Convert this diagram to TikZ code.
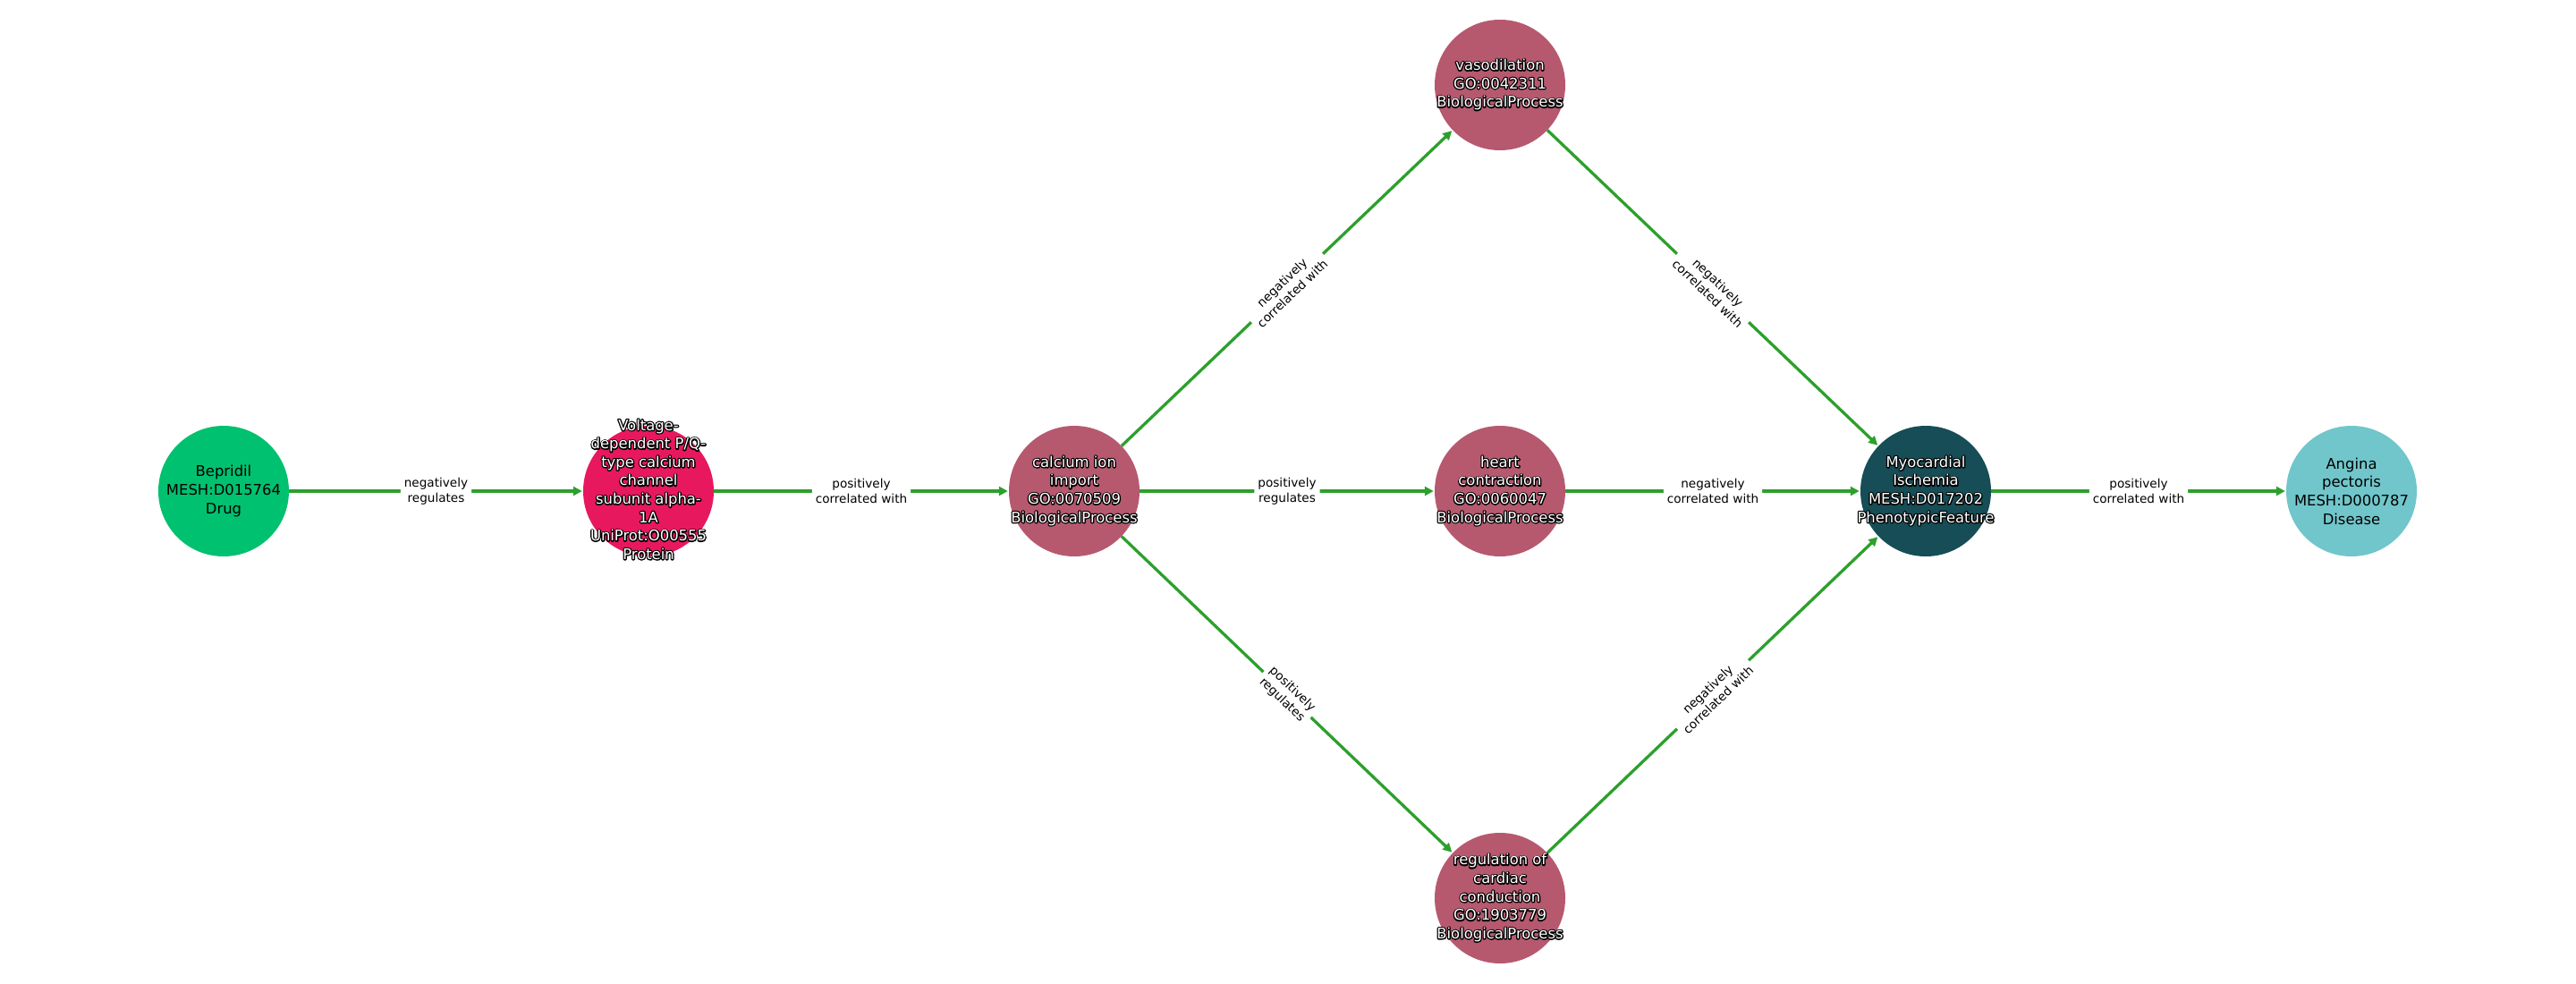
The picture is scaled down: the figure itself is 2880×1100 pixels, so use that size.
\documentclass[tikz,border=0pt]{standalone}
\usepackage{fontspec}
\setmainfont{DejaVu Sans}
\usetikzlibrary{arrows.meta}
\definecolor{cdrug}{RGB}{0,193,111}
\definecolor{cprot}{RGB}{232,24,94}
\definecolor{cbp}{RGB}{182,89,111}
\definecolor{cpheno}{RGB}{22,77,86}
\definecolor{cdis}{RGB}{112,198,202}
\definecolor{egreen}{RGB}{44,160,44}
\newcommand{\outl}[1]{%
  \leavevmode\rlap{\special{pdf:literal direct 1 Tr 2.6 w 1 j}\textcolor{black}{\begin{tabular}{@{}c@{}}#1\end{tabular}}\special{pdf:literal direct 0 Tr}}%
  \begin{tabular}{@{}c@{}}#1\end{tabular}}
\tikzset{
  nd/.style={circle, minimum size=146pt, inner sep=0pt, draw=none},
  ntxt/.style={font=\fontsize{16.4}{20.6}\selectfont, align=center, inner sep=0pt},
  wtxt/.style={ntxt, text=white},
  elab/.style={font=\fontsize{13.6}{16.7}\selectfont, align=center, fill=white, inner sep=4pt, rounded corners=3pt, sloped, text=black},
  edgeln/.style={draw=egreen, line width=3.3pt, shorten >=1pt, -{Triangle[length=10pt,width=10pt]}},
}
\begin{document}
\begin{tikzpicture}[x=1pt,y=-1pt]
\useasboundingbox (0,0) rectangle (2880,1100);
% circles
\node[nd, fill=cdrug]  (b)  at (250,549)  {};
\node[nd, fill=cprot]  (v)  at (725,549)  {};
\node[nd, fill=cbp]    (c)  at (1201,549) {};
\node[nd, fill=cbp]    (vd) at (1677,95)  {};
\node[nd, fill=cbp]    (h)  at (1677,549) {};
\node[nd, fill=cbp]    (r)  at (1677,1004) {};
\node[nd, fill=cpheno] (m)  at (2153,549) {};
\node[nd, fill=cdis]   (a)  at (2629,549) {};
% edges
\path[edgeln] (b) -- node[elab] (l1) {negatively\\regulates} (v);
\path[edgeln] (v) -- node[elab] (l2) {positively\\correlated with} (c);
\path[edgeln] (c) -- node[elab] (l3) {negatively\\correlated with} (vd);
\path[edgeln] (c) -- node[elab] (l4) {positively\\regulates} (h);
\path[edgeln] (c) -- node[elab] (l5) {positively\\regulates} (r);
\path[edgeln] (vd) -- node[elab] (l6) {negatively\\correlated with} (m);
\path[edgeln] (h) -- node[elab] (l7) {negatively\\correlated with} (m);
\path[edgeln] (r) -- node[elab] (l8) {negatively\\correlated with} (m);
\path[edgeln] (m) -- node[elab] (l9) {positively\\correlated with} (a);
% texts
\node[ntxt] (bt) at (b) {Bepridil\\MESH:D015764\\Drug};
\node[wtxt] (vt) at (v) {\outl{Voltage-\\dependent P/Q-\\type calcium\\channel\\subunit alpha-\\1A\\UniProt:O00555\\Protein}};
\node[wtxt] (ct) at (c) {\outl{calcium ion\\import\\GO:0070509\\BiologicalProcess}};
\node[wtxt] (vdt) at (vd) {\outl{vasodilation\\GO:0042311\\BiologicalProcess}};
\node[wtxt] (ht) at (h) {\outl{heart\\contraction\\GO:0060047\\BiologicalProcess}};
\node[wtxt] (rt) at (r) {\outl{regulation of\\cardiac\\conduction\\GO:1903779\\BiologicalProcess}};
\node[wtxt] (mt) at (m) {\outl{Myocardial\\Ischemia\\MESH:D017202\\PhenotypicFeature}};
\node[ntxt] (at) at (a) {Angina\\pectoris\\MESH:D000787\\Disease};
\end{tikzpicture}
\end{document}
